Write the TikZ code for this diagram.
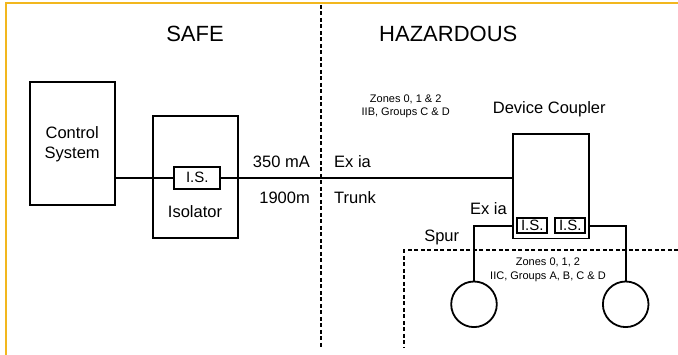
\documentclass[tikz,border=0pt]{standalone}
\usepackage{fontspec}
\setmainfont{Liberation Sans}
\usepackage{xcolor}
\usepackage{tikz}
\definecolor{zoneyellow}{HTML}{F2B71E}

\begin{document}
\begin{tikzpicture}[x=1pt,y=-1pt,
  blk/.style={draw,line width=1.8pt,inner sep=0pt},
  isbox/.style={draw,line width=1.8pt,inner sep=0pt,font=\fontsize{15}{15}\selectfont},
  lbl/.style={inner sep=0pt,font=\fontsize{16.5}{20}\selectfont},
  zonelbl/.style={inner sep=0pt,font=\fontsize{22}{22}\selectfont},
  note/.style={inner sep=0pt,align=center,font=\fontsize{11}{13.5}\selectfont},
  wire/.style={line width=1.8pt},
  bound/.style={line width=1.7pt,dash pattern=on 4pt off 2.5pt}]
  \useasboundingbox (0,0) rectangle (678,355);
  \draw[zoneyellow,line width=2.2pt] (6,355) -- (6,3.3) -- (678,3.3);
  \draw[bound] (320.7,5) -- (320.7,347);
  \draw[bound] (678,250) -- (404.3,250) -- (404.3,347);
  % zones
  \node[zonelbl] (safe) at (195,34) {SAFE};
  \node[zonelbl] (haz) at (448.3,34) {HAZARDOUS};
  % safe side
  \node[blk,lbl,align=center,minimum width=85pt,minimum height=123pt] (ctrl) at (72.2,143.8) {Control\\System};
  \node[blk,minimum width=85.3pt,minimum height=122pt] (isolator) at (195.7,177.3) {};
  \node[isbox,minimum width=46pt,minimum height=22pt] (isiso) at (197.3,177.7) {I.S.};
  \node[lbl] (isolbl) at (195,212) {Isolator};
  \node[lbl,anchor=east] (amps) at (310,161.7) {350 mA};
  \node[lbl,anchor=east] (len) at (310,197.7) {1900m};
  % hazardous side
  \node[lbl,anchor=west] (exia) at (334,161.7) {Ex ia};
  \node[lbl,anchor=west] (trunk) at (334,197.7) {Trunk};
  \node[note] (zoneb) at (405.7,106.2) {Zones 0, 1 \& 2\\IIB, Groups C \& D};
  \node[lbl] (dclbl) at (549.3,109) {Device Coupler};
  \node[blk,minimum width=76pt,minimum height=104.5pt] (coupler) at (551,186.2) {};
  \node[isbox,minimum width=30pt,minimum height=15pt] (isa) at (532.3,225.8) {I.S.};
  \node[isbox,minimum width=30pt,minimum height=15pt] (isb) at (570.3,225.8) {I.S.};
  \node[lbl] (exspur) at (488.5,209) {Ex ia};
  \node[lbl] (spur) at (441.7,237.7) {Spur};
  \node[note] (zonec) at (548,270) {Zones 0, 1, 2\\IIC, Groups A, B, C \& D};
  \node[circle,draw,line width=1.8pt,minimum size=45.6pt,inner sep=0pt] (dev1) at (474,304.3) {};
  \node[circle,draw,line width=1.8pt,minimum size=45.6pt,inner sep=0pt] (dev2) at (625.7,304.3) {};
  % wiring
  \draw[wire] (ctrl.east |- isiso) -- (isiso.west);
  \draw[wire] (isiso.east) -- (coupler.west |- isiso);
  \draw[wire] (coupler.west |- isa) -| (dev1.north);
  \draw[wire] (coupler.east |- isb) -| (dev2.north);
\end{tikzpicture}
\end{document}
